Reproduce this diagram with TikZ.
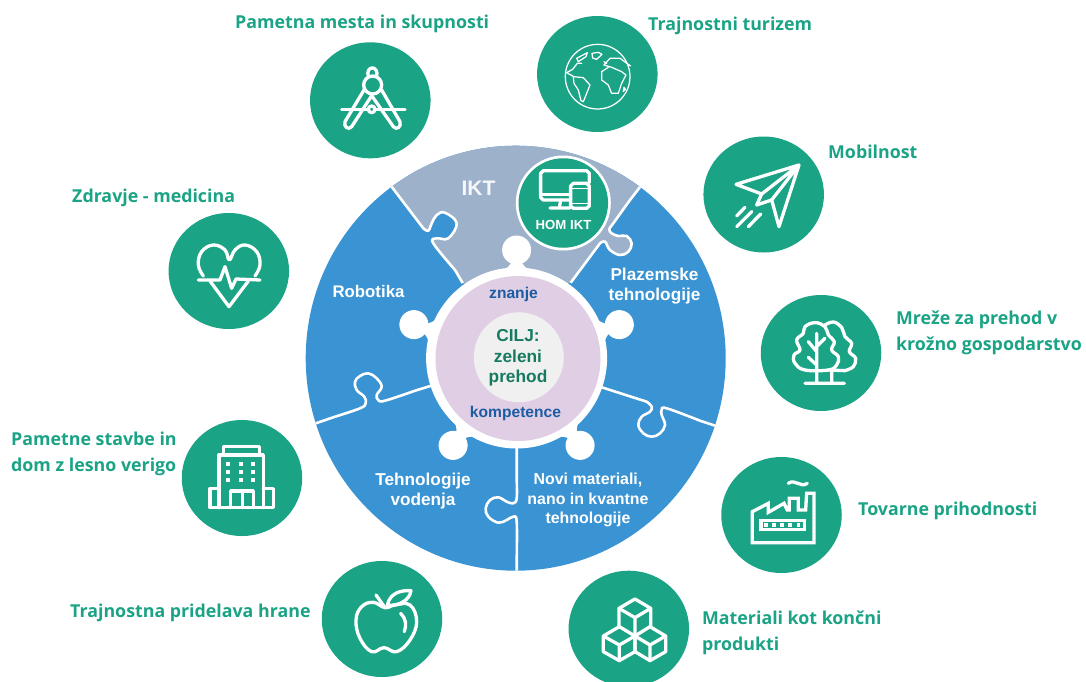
\documentclass[tikz,border=0pt]{standalone}
\usepackage{fontspec}
\usetikzlibrary{shapes.geometric}
\setmainfont{Liberation Sans}
\newfontfamily\labfont{Open Sans}
\definecolor{tgreen}{HTML}{1AA385}
\definecolor{sblue}{HTML}{3A93D3}
\definecolor{iktgrey}{HTML}{9DB2CA}
\definecolor{ringpink}{HTML}{E0CEE4}
\definecolor{coregrey}{HTML}{F0F0F0}
\definecolor{wordblue}{HTML}{1C5CA3}
\definecolor{goalgreen}{HTML}{157A60}
\tikzset{
  disc/.style={ellipse,fill=tgreen,draw=none,inner sep=0pt,outer sep=0pt,minimum width=120.5pt,minimum height=116pt},
  lab/.style={text=tgreen,anchor=base west,inner sep=0pt,align=left,font=\labfont\bfseries\fontsize{17.8}{25.8}\selectfont},
  seg/.style={text=white,inner sep=0pt,align=center,font=\bfseries\fontsize{17.2}{20.5}\selectfont},
  divider/.style={draw=white,line width=2.6pt,line join=round},
  icon/.style={draw=white,line width=3.3pt,line join=round,line cap=round},
  thinicon/.style={draw=white,line width=1.25pt,line join=round,line cap=round},
  knob/.style={fill=white,draw=none},
  sm/.style={smooth,tension=0.65}
}
\begin{document}
\begin{tikzpicture}[x=1pt,y=-1pt]
\useasboundingbox (0,0) rectangle (1086,681);
% outer discs
\node[disc] (smart) at (370.3,100.3) {};
\node[disc] (tour) at (597.3,74) {};
\node[disc] (mob) at (763.7,194.5) {};
\node[disc] (net) at (821,353) {};
\node[disc] (fact) at (781.5,515) {};
\node[disc] (mat) at (628.8,628.7) {};
\node[disc] (food) at (382,619) {};
\node[disc] (build) at (242,478) {};
\node[disc] (health) at (228.8,271) {};
% central wheel
\node[ellipse,fill=sblue,inner sep=0pt,minimum width=420pt,minimum height=425pt] (wheel) at (515.7,358.2) {};
\begin{scope}
\clip (515.7,358.2) ellipse [x radius=210,y radius=212.5];
\fill[iktgrey] (385,178) -- plot[sm] coordinates {(423.3,228.3) (428.3,230.7) (431.7,223.3) (436.7,215) (445,212.7) (456.7,223.3) (448.3,238.3) (436.7,238.3) (433.3,243.3) (455,270)} -- (462.7,283) -- (516,300) -- (570.7,282.7) -- plot[sm] coordinates {(600,243.3) (605,241.7) (610,250) (620,255) (628.3,251.7) (631.7,243.3) (626.7,236) (618.3,236) (611.7,233.3) (609.3,229.3) (613.3,223.3) (630,200)} -- (647,178) -- (647,130) -- (385,130) -- cycle;
\draw[divider] (385,178) -- plot[sm] coordinates {(423.3,228.3) (428.3,230.7) (431.7,223.3) (436.7,215) (445,212.7) (456.7,223.3) (448.3,238.3) (436.7,238.3) (433.3,243.3) (455,270)} -- (462.7,283);
\draw[divider] (570.7,282.7) -- plot[sm] coordinates {(600,243.3) (605,241.7) (610,250) (620,255) (628.3,251.7) (631.7,243.3) (626.7,236) (618.3,236) (611.7,233.3) (609.3,229.3) (613.3,223.3) (630,200)} -- (647,178);
\draw[divider] (601.7,387.3) -- plot[sm] coordinates {(646.7,401.7) (651.7,406.7) (650,411.7) (641.7,416.7) (638.3,425) (643.3,433.3) (651.7,436.7) (660,433.3) (665,425) (661.7,415) (661.7,410) (666.7,408.3) (700,420.7)} -- (725,429);
\draw[divider] (516.7,445) -- plot[sm] coordinates {(516.7,480) (516.7,498.3) (513.3,503.3) (506.7,501.7) (498.3,497.3) (490,500) (485.7,508.3) (488.3,516.7) (498.3,522.7) (506.7,520) (513.3,516.7) (516.7,521.7) (516.7,560)} -- (516.7,575);
\draw[divider] (305,427) -- plot[sm] coordinates {(335,416.7) (360,408.3) (365.7,403.3) (364.3,396.7) (356.7,390) (355,381.7) (360,376) (368.3,373.3) (376.7,378.3) (381.7,386.7) (376.7,395) (378.3,400) (385,400.7) (415,390.7)} -- (432,385.5);
\end{scope}
% hub knobs
\foreach \a in {90,18,-54,-126,162}{
  \begin{scope}[shift={(516.6,358)},rotate=\a]
  \fill[knob] (108,0) circle (14.5);
  \fill[knob] (84,-17) .. controls (92,-8) and (93,-5) .. (98,-5) -- (98,5) .. controls (93,5) and (92,8) .. (84,17) -- cycle;
  \end{scope}
}
\node[circle,fill=white,inner sep=0pt,minimum size=181pt] (ring) at (516.6,358) {};
\node[circle,fill=ringpink,inner sep=0pt,minimum size=165pt] (pink) at (518,358.5) {};
\node[circle,fill=coregrey,inner sep=0pt,minimum size=90pt] (core) at (518.8,357.3) {};
% hub texts
\node[text=goalgreen,inner sep=0pt,align=center,font=\bfseries\fontsize{17.3}{20.5}\selectfont] (goal) at (518,358) {CILJ:\\zeleni\\prehod};
\node[text=wordblue,inner sep=0pt,font=\bfseries\fontsize{15.6}{16}\selectfont] (know) at (513.5,294) {znanje};
\node[text=wordblue,inner sep=0pt,font=\bfseries\fontsize{15.6}{16}\selectfont] (comp) at (515.5,413) {kompetence};
% segment texts
\node[text=white!90!iktgrey,inner sep=0pt,font=\bfseries\fontsize{21}{22}\selectfont] (ikt) at (478.5,188) {IKT};
\node[seg,font=\bfseries\fontsize{16.8}{20}\selectfont] (robot) at (368.5,291) {Robotika};
\node[seg] (plasma) at (654.5,286) {Plazemske\\tehnologije};
\node[seg] (ctrl) at (423,491) {Tehnologije\\vodenja};
\node[seg,font=\bfseries\fontsize{15.9}{19.7}\selectfont] (nano) at (588,500) {Novi materiali,\\nano in kvantne\\tehnologije};
% HOM IKT
\node[circle,fill=white,inner sep=0pt,minimum size=95pt] (homring) at (563.3,203) {};
\node[circle,fill=tgreen,inner sep=0pt,minimum size=89.5pt] (hom) at (563.3,203) {};
\node[text=white,inner sep=0pt,font=\bfseries\fontsize{13.2}{14}\selectfont] (homtxt) at (563.5,224.5) {HOM IKT};
\begin{scope}[shift={(300,150)},scale=0.3333]
\draw[icon] (810,150) -- (730,150) -- (722,142) -- (722,70) -- (730,62) -- (860,62) -- (868,70) -- (868,98);
\draw[icon] (725,134) -- (810,134);
\draw[icon] (782,150) -- (778,174) (750,174) -- (810,174);
\draw[icon] (820,100) -- (860,100) -- (868,108) -- (868,168) -- (860,175) -- (820,175) -- (812,168) -- (812,108) -- cycle;
\draw[icon,line width=1.6pt] (812,116) -- (868,116) (812,160) -- (868,160);
\end{scope}
% labels
\node[lab] (tsmart) at (235,28) {Pametna mesta in skupnosti};
\node[lab] (ttour) at (648,30) {Trajnostni turizem};
\node[lab] (tmob) at (828,158) {Mobilnost};
\node[lab,anchor=west] (tnet) at (896,333) {Mreže za prehod v\\krožno gospodarstvo};
\node[lab] (tfact) at (858,515) {Tovarne prihodnosti};
\node[lab,anchor=west] (tmat) at (702,633) {Materiali kot končni\\produkti};
\node[lab] (tfood) at (70,617) {Trajnostna pridelava hrane};
\node[lab,anchor=west] (tbuild) at (11,453.5) {Pametne stavbe in\\dom z lesno verigo};
\node[lab] (thealth) at (72,202) {Zdravje - medicina};
% compass
\begin{scope}[shift={(300,30)},scale=0.3333]
\draw[icon] (218,165) circle (27);
\draw[icon] (205,140) .. controls (195,105) and (238,105) .. (230,140);
\draw[icon] (192,180) -- (135,275) .. controls (130,290) and (145,302) .. (155,290) -- (215,197) -- (280,290) .. controls (290,302) and (305,290) .. (300,275) -- (245,180);
\draw[icon] (125,238) -- (315,238);
\draw[icon,fill=tgreen] (215,238) circle (10);
\end{scope}
% globe
\begin{scope}[shift={(300,30)},scale=0.3333]
\draw[thinicon] (893,140) circle (97);
\draw[thinicon] (876,70) -- (895,67) -- (906,73) -- (890,88) -- (878,84) -- cycle;
\draw[thinicon] (830,85) -- (862,68) -- (858,80) -- (835,95) -- cycle;
\draw[thinicon] (800,128) -- (818,118) -- (832,100) -- (845,100) (800,128) -- (822,140) -- (850,143) -- (870,165) -- (862,185) -- (850,215) -- (843,212) -- (835,180) -- (822,160) -- (820,140);
\draw[thinicon] (992,108) -- (960,85) -- (930,85) -- (912,105) -- (935,112) -- (965,125) -- (978,135) -- (965,160) -- (955,190) -- (935,190) -- (925,165) -- (905,150) -- (905,125) -- (925,112);
\draw[thinicon] (972,172) -- (976,178) -- (970,184) -- cycle;
\draw[thinicon] (912,95) -- (920,100);
\end{scope}
% plane
\begin{scope}[shift={(690,120)},scale=0.3333]
\draw[icon] (327,135) -- (138,193) -- (215,222) -- (327,135) -- (245,240) -- (267,320) -- cycle;
\draw[icon] (215,222) -- (200,255) -- (245,240);
\draw[icon] (140,288) -- (165,262) (140,320) -- (185,275) (175,320) -- (212,282);
\end{scope}
% trees
\begin{scope}[shift={(690,120)},scale=0.3333]
\draw[icon] plot[smooth cycle,tension=0.7] coordinates {(345,750) (315,730) (312,705) (330,690) (320,660) (340,640) (345,620) (375,608) (405,620) (415,645) (433,665) (425,690) (445,710) (440,735) (415,750)};
\draw[icon] plot[sm] coordinates {(405,615) (430,606) (455,622) (465,650) (485,670) (478,695) (497,715) (490,740) (465,752)};
\draw[icon] (465,752) -- (415,750);
\draw[icon] (380,640) -- (380,788) (355,665) -- (380,695) (405,655) -- (380,680) (355,712) -- (380,735) (425,750) -- (425,788) (345,790) -- (463,790);
\end{scope}
% factory
\begin{scope}[shift={(560,450)},scale=0.3333]
\draw[icon,line cap=butt,line join=miter] (577,278) -- (577,185) -- (625,160) -- (625,187) -- (672,160) -- (682,180) -- (688,180) -- (688,145) -- (715,145) -- (715,180) -- (737,180) -- (740,130) -- (762,130) -- (762,278) -- cycle;
\draw[icon,line cap=butt,line join=miter] (603,212) rectangle (733,238);
\foreach \d in {618,642,666,690,715}{\fill[white] (\d-5,220) rectangle (\d+5,230);}
\draw[icon] (685,100) .. controls (705,85) and (722,115) .. (742,100);
\end{scope}
% cubes
\begin{scope}[shift={(560,450)},scale=0.3333]
\draw[icon] (225,447) -- (272,475) -- (272,530) (177,530) -- (177,475) -- (225,447);
\draw[icon] (177,475) -- (225,503) -- (272,475) (225,503) -- (225,558);
\draw[icon] (178,530) -- (225,558) -- (225,605) -- (178,632) -- (130,605) -- (130,558) -- cycle;
\draw[icon] (130,558) -- (178,585) -- (225,558) (178,585) -- (178,632);
\draw[icon] (270,530) -- (317,558) -- (317,605) -- (270,632) -- (225,605) -- (225,558) -- cycle;
\draw[icon] (225,558) -- (270,585) -- (317,558) (270,585) -- (270,632);
\end{scope}
% apple
\begin{scope}[shift={(310,555)},scale=0.3333]
\draw[icon] plot[smooth cycle,tension=0.7] coordinates {(225,158) (190,142) (155,155) (138,195) (150,250) (185,290) (222,278) (260,290) (300,255) (320,200) (300,150) (255,150)};
\draw[icon] (198,120) -- (225,158);
\draw[icon] (232,150) .. controls (240,115) and (270,105) .. (303,107) .. controls (300,135) and (265,155) .. (232,150);
\draw[icon] (272,175) .. controls (288,190) and (290,210) .. (283,230);
\end{scope}
% building
\begin{scope}[shift={(160,205)},scale=0.3333]
\draw[icon] (190,745) -- (190,725) -- (298,725) -- (298,745);
\draw[icon] (177,908) -- (177,750) -- (310,750) -- (310,908);
\draw[icon] (177,850) -- (150,850) -- (150,908) -- (340,908) -- (340,850) -- (310,850);
\draw[icon] (212,908) -- (212,858) -- (280,858) -- (280,908) (248,858) -- (248,908);
\foreach \px in {205,243,280}{\foreach \py in {778,802,826}{\fill[white] (\px-6,\py-6) rectangle (\px+6,\py+6);}}
\end{scope}
% heart
\begin{scope}[shift={(160,205)},scale=0.3333]
\draw[icon] plot[smooth,tension=0.7] coordinates {(130,213) (115,180) (125,140) (160,120) (195,135) (208,165) (225,135) (255,120) (290,140) (300,180) (285,213)};
\draw[icon] (150,228) -- (207,305) -- (265,228);
\draw[icon] (115,225) -- (180,225) -- (195,185) -- (215,250) -- (228,222) -- (300,225);
\end{scope}
\end{tikzpicture}
\end{document}
